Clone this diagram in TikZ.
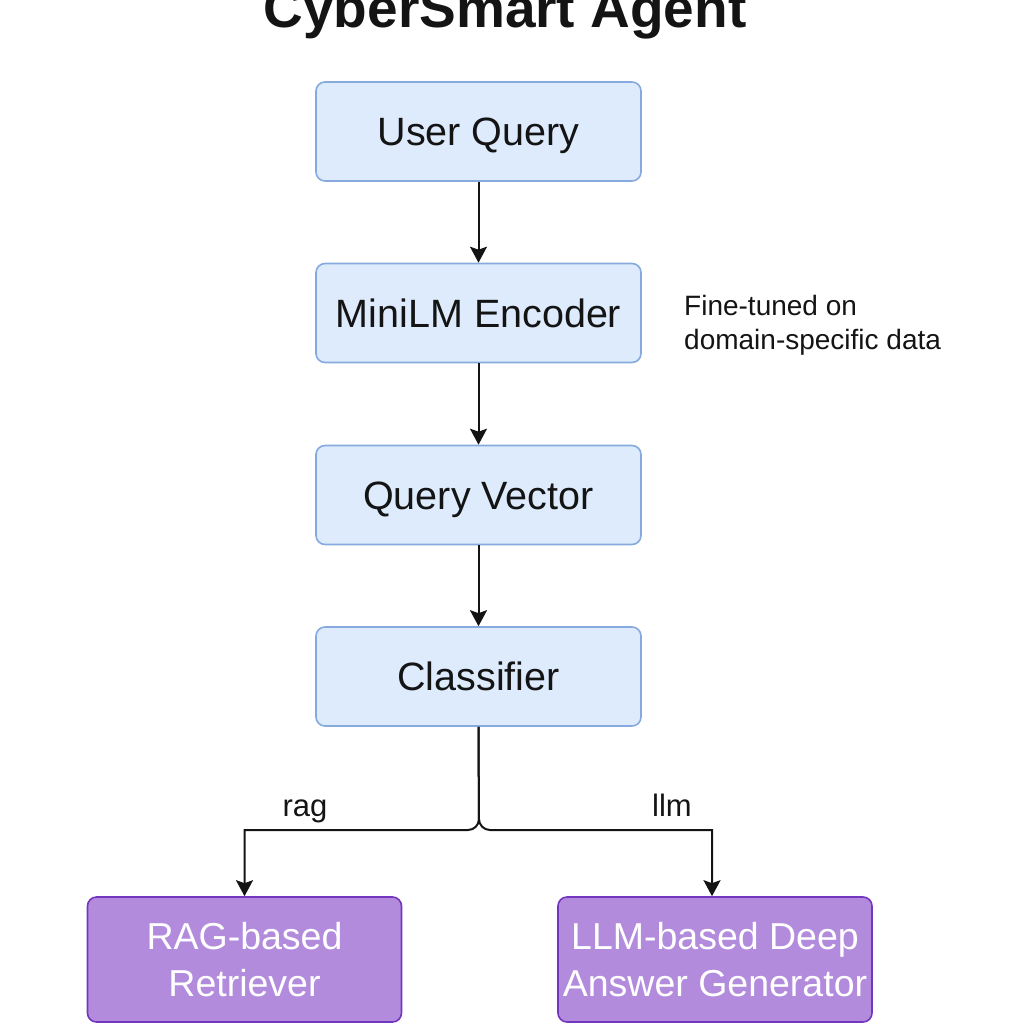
\documentclass[tikz,border=0pt]{standalone}
\usepackage{fontspec}
\setmainfont{Liberation Sans}
\usetikzlibrary{arrows.meta}
\definecolor{bluefill}{HTML}{DDEBFC}
\definecolor{blueline}{HTML}{86AADD}
\definecolor{purfill}{HTML}{B38BDD}
\definecolor{purline}{HTML}{7436BE}
\definecolor{ink}{HTML}{141414}
\tikzset{
  bluebox/.style={draw=blueline, fill=bluefill, line width=1.6pt, rounded corners=9pt,
    minimum width=325pt, minimum height=99pt, text=ink, font=\fontsize{39.5}{46}\selectfont,
    inner sep=0pt, text height=28pt, text depth=0pt},
  purbox/.style={draw=purline, fill=purfill, line width=1.6pt, rounded corners=9pt,
    minimum width=314pt, minimum height=125pt, text=white, align=center,
    font=\fontsize{37.5}{47}\selectfont, inner sep=0pt},
  arr/.style={draw=ink, line width=2pt, -{Stealth[length=16pt,width=17pt,inset=3pt]}},
  lbl/.style={text=ink, font=\fontsize{31}{36}\selectfont, inner sep=0pt, anchor=base},
}
\begin{document}
\begin{tikzpicture}[x=1pt,y=-1pt]
\useasboundingbox (0,0) rectangle (1024,1024);
\node[text=ink, font=\fontsize{55}{60}\selectfont\bfseries, anchor=base, inner sep=0pt] (title) at (505,28) {CyberSmart Agent};
\node[bluebox] (uq) at (478.5,131.5) {User Query};
\node[bluebox] (enc) at (478.5,313) {MiniLM Encoder};
\node[bluebox] (qv) at (478.5,495) {Query Vector};
\node[bluebox] (cls) at (478.5,676.5) {Classifier};
\node[purbox] (rag) at (244.5,959.5) {RAG-based\\Retriever};
\node[purbox] (llm) at (715,959.5) {LLM-based Deep\\Answer Generator};
\node[text=ink, font=\fontsize{28}{34}\selectfont, align=left, anchor=north west, inner sep=0pt] (note) at (684,295) {Fine-tuned on\\domain-specific data};
\node[lbl] (lrag) at (305,816) {rag};
\node[lbl] (lllm) at (672,816) {llm};
\draw[arr] (uq) -- (enc);
\draw[arr] (enc) -- (qv);
\draw[arr] (qv) -- (cls);
\coordinate (jn) at (479,830);
\draw[arr] (cls.south) [rounded corners=11pt] -- (jn) -- ++(-60,0) [sharp corners] -| (rag.north);
\draw[arr] (cls.south) [rounded corners=11pt] -- (jn) -- ++(60,0) [sharp corners] -| (llm.north -| 712,0);
\end{tikzpicture}
\end{document}
